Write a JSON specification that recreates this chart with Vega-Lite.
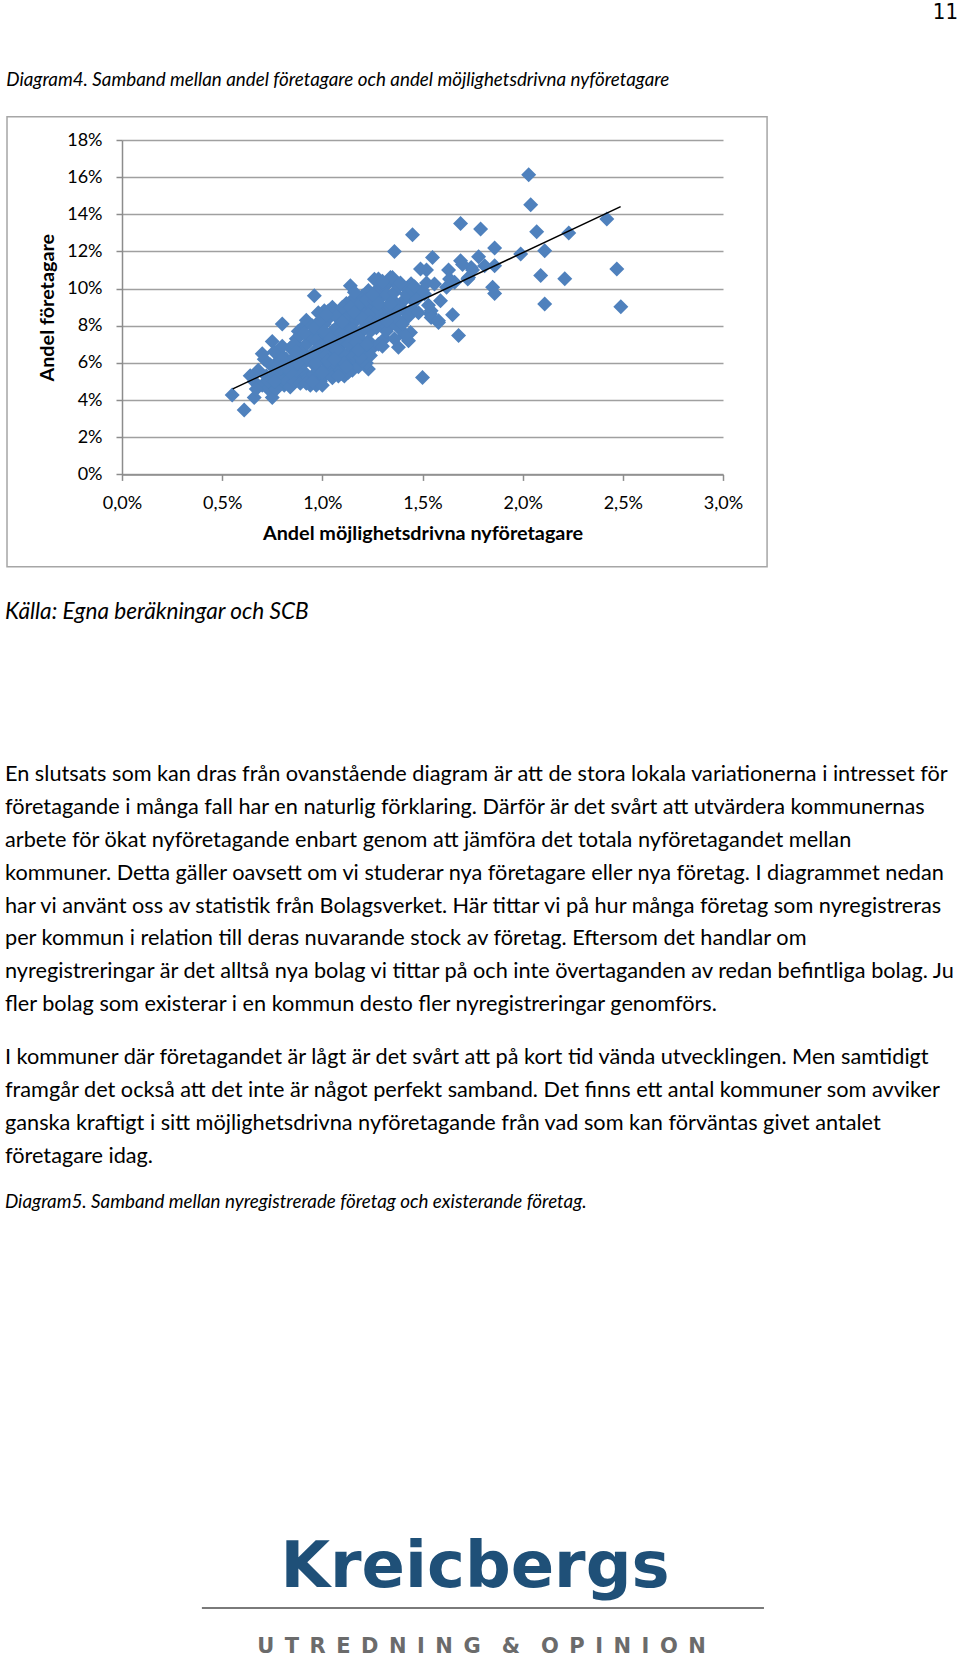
{
  "$schema": "https://vega.github.io/schema/vega-lite/v6.json",
  "background": "white",
  "padding": {"left": 5, "top": 0, "right": 0, "bottom": 0},
  "config": {
    "view": {"stroke": null},
    "font": "Lato",
    "title": {"color": "black", "fontWeight": "normal", "font": "Lato"}
  },
  "datasets": {
    "points": [
      {"x":0.0203,"y":0.1613},{"x":0.0204,"y":0.1452},{"x":0.0207,"y":0.1306},{"x":0.0223,"y":0.1299},{"x":0.0242,"y":0.1375},
      {"x":0.0247,"y":0.1106},{"x":0.0249,"y":0.0903},{"x":0.0211,"y":0.1204},{"x":0.0209,"y":0.1070},{"x":0.0221,"y":0.1053},
      {"x":0.0211,"y":0.0917},{"x":0.0199,"y":0.1186},{"x":0.0186,"y":0.1219},{"x":0.0186,"y":0.1123},{"x":0.0185,"y":0.1007},
      {"x":0.0186,"y":0.0974},{"x":0.0179,"y":0.1321},{"x":0.0169,"y":0.1351},{"x":0.0145,"y":0.1290},{"x":0.0136,"y":0.1200},
      {"x":0.0155,"y":0.1168},{"x":0.0152,"y":0.1100},{"x":0.0163,"y":0.1100},{"x":0.0169,"y":0.1150},{"x":0.0178,"y":0.1172},
      {"x":0.0173,"y":0.1060},{"x":0.0166,"y":0.1034},{"x":0.0159,"y":0.0935},{"x":0.0165,"y":0.0860},{"x":0.0168,"y":0.0747},
      {"x":0.0158,"y":0.0818},{"x":0.0154,"y":0.0863},{"x":0.0150,"y":0.0522},{"x":0.0156,"y":0.1025},{"x":0.0114,"y":0.1016},
      {"x":0.0096,"y":0.0962},{"x":0.0080,"y":0.0810},{"x":0.0075,"y":0.0716},{"x":0.0055,"y":0.0427},{"x":0.0061,"y":0.0347},
      {"x":0.0075,"y":0.0414},{"x":0.0066,"y":0.0414},{"x":0.0064,"y":0.0531},{"x":0.0123,"y":0.0567},{"x":0.0138,"y":0.0684},
      {"x":0.0144,"y":0.0764},{"x":0.0135,"y":0.1060},{"x":0.0128,"y":0.1052},{"x":0.0149,"y":0.1106},{"x":0.0162,"y":0.1007},
      {"x":0.01635,"y":0.1052},{"x":0.01743,"y":0.1114},{"x":0.0181,"y":0.1123},{"x":0.01726,"y":0.1052},{"x":0.0151,"y":0.0971},
      {"x":0.01543,"y":0.0881},{"x":0.01543,"y":0.0845},{"x":0.0158,"y":0.0827},{"x":0.01443,"y":0.1026},{"x":0.0146,"y":0.0989},
      {"x":0.0101,"y":0.0881},{"x":0.0105,"y":0.0900},{"x":0.0170,"y":0.1130},{"x":0.0175,"y":0.1100},
      {"x":0.0066,"y":0.050},{"x":0.0068,"y":0.056},{"x":0.0070,"y":0.048},{"x":0.0071,"y":0.062},{"x":0.0072,"y":0.053},
      {"x":0.0073,"y":0.046},{"x":0.0074,"y":0.059},{"x":0.0070,"y":0.065},{"x":0.0067,"y":0.046},{"x":0.0073,"y":0.050},
      {"x":0.0076,"y":0.054},{"x":0.0077,"y":0.060},{"x":0.0078,"y":0.049},{"x":0.0079,"y":0.065},{"x":0.0080,"y":0.056},
      {"x":0.0081,"y":0.048},{"x":0.0082,"y":0.062},{"x":0.0083,"y":0.052},{"x":0.0084,"y":0.068},{"x":0.0085,"y":0.058},
      {"x":0.0076,"y":0.066},{"x":0.0078,"y":0.052},{"x":0.0080,"y":0.069},{"x":0.0082,"y":0.050},{"x":0.0084,"y":0.047},
      {"x":0.0077,"y":0.046},{"x":0.0079,"y":0.057},
      {"x":0.0086,"y":0.063},{"x":0.0087,"y":0.073},{"x":0.0088,"y":0.051},{"x":0.0089,"y":0.068},{"x":0.0090,"y":0.079},
      {"x":0.0091,"y":0.055},{"x":0.0092,"y":0.064},{"x":0.0093,"y":0.071},{"x":0.0094,"y":0.048},{"x":0.0095,"y":0.060},
      {"x":0.0086,"y":0.050},{"x":0.0088,"y":0.077},{"x":0.0090,"y":0.059},{"x":0.0092,"y":0.083},{"x":0.0094,"y":0.075},
      {"x":0.0087,"y":0.056},{"x":0.0089,"y":0.049},{"x":0.0091,"y":0.069},{"x":0.0093,"y":0.052},{"x":0.0095,"y":0.080},
      {"x":0.0086,"y":0.070},{"x":0.0090,"y":0.065},{"x":0.0088,"y":0.060},{"x":0.0092,"y":0.049},
      {"x":0.0096,"y":0.054},{"x":0.0097,"y":0.067},{"x":0.0098,"y":0.076},{"x":0.0099,"y":0.050},{"x":0.0100,"y":0.062},
      {"x":0.0101,"y":0.081},{"x":0.0102,"y":0.057},{"x":0.0103,"y":0.070},{"x":0.0104,"y":0.085},{"x":0.0105,"y":0.064},
      {"x":0.0096,"y":0.079},{"x":0.0097,"y":0.048},{"x":0.0098,"y":0.061},{"x":0.0100,"y":0.073},{"x":0.0101,"y":0.053},
      {"x":0.0102,"y":0.068},{"x":0.0103,"y":0.088},{"x":0.0104,"y":0.059},{"x":0.0099,"y":0.083},{"x":0.0100,"y":0.048},
      {"x":0.0105,"y":0.077},{"x":0.0097,"y":0.072},{"x":0.0102,"y":0.075},{"x":0.0104,"y":0.069},{"x":0.0098,"y":0.056},
      {"x":0.0101,"y":0.065},
      {"x":0.0106,"y":0.055},{"x":0.0107,"y":0.079},{"x":0.0108,"y":0.063},{"x":0.0109,"y":0.087},{"x":0.0110,"y":0.054},
      {"x":0.0111,"y":0.071},{"x":0.0112,"y":0.092},{"x":0.0113,"y":0.060},{"x":0.0114,"y":0.082},{"x":0.0115,"y":0.067},
      {"x":0.0106,"y":0.070},{"x":0.0107,"y":0.059},{"x":0.0108,"y":0.084},{"x":0.0109,"y":0.066},{"x":0.0110,"y":0.076},
      {"x":0.0111,"y":0.053},{"x":0.0112,"y":0.064},{"x":0.0113,"y":0.088},{"x":0.0114,"y":0.073},{"x":0.0115,"y":0.056},
      {"x":0.0106,"y":0.087},{"x":0.0108,"y":0.073},{"x":0.0110,"y":0.090},{"x":0.0112,"y":0.078},{"x":0.0114,"y":0.062},
      {"x":0.0107,"y":0.067},{"x":0.0109,"y":0.056},{"x":0.0111,"y":0.083},{"x":0.0113,"y":0.070},{"x":0.0115,"y":0.094},
      {"x":0.0116,"y":0.075},{"x":0.0117,"y":0.061},{"x":0.0118,"y":0.089},{"x":0.0119,"y":0.070},{"x":0.0120,"y":0.096},
      {"x":0.0121,"y":0.065},{"x":0.0122,"y":0.081},{"x":0.0123,"y":0.072},{"x":0.0124,"y":0.090},{"x":0.0125,"y":0.068},
      {"x":0.0116,"y":0.098},{"x":0.0117,"y":0.083},{"x":0.0118,"y":0.058},{"x":0.0119,"y":0.092},{"x":0.0120,"y":0.077},
      {"x":0.0121,"y":0.086},{"x":0.0122,"y":0.060},{"x":0.0123,"y":0.099},{"x":0.0124,"y":0.077},{"x":0.0125,"y":0.085},
      {"x":0.0116,"y":0.064},{"x":0.0118,"y":0.074},{"x":0.0120,"y":0.061},{"x":0.0122,"y":0.094},{"x":0.0124,"y":0.064},
      {"x":0.0126,"y":0.093},{"x":0.0127,"y":0.079},{"x":0.0128,"y":0.100},{"x":0.0129,"y":0.085},{"x":0.0130,"y":0.096},
      {"x":0.0131,"y":0.073},{"x":0.0132,"y":0.089},{"x":0.0133,"y":0.103},{"x":0.0134,"y":0.080},{"x":0.0135,"y":0.094},
      {"x":0.0126,"y":0.105},{"x":0.0127,"y":0.088},{"x":0.0128,"y":0.070},{"x":0.0129,"y":0.099},{"x":0.0130,"y":0.082},
      {"x":0.0131,"y":0.102},{"x":0.0132,"y":0.077},{"x":0.0133,"y":0.091},{"x":0.0134,"y":0.106},{"x":0.0135,"y":0.086},
      {"x":0.0130,"y":0.069},{"x":0.0127,"y":0.097},{"x":0.0132,"y":0.097},
      {"x":0.0136,"y":0.098},{"x":0.0137,"y":0.084},{"x":0.0138,"y":0.101},{"x":0.0139,"y":0.078},{"x":0.0140,"y":0.093},
      {"x":0.0141,"y":0.088},{"x":0.0142,"y":0.100},{"x":0.0143,"y":0.072},{"x":0.0144,"y":0.095},{"x":0.0145,"y":0.089},
      {"x":0.0137,"y":0.091},{"x":0.0139,"y":0.103},{"x":0.0141,"y":0.075},{"x":0.0143,"y":0.085},{"x":0.0136,"y":0.073},
      {"x":0.0140,"y":0.081},{"x":0.0142,"y":0.097},{"x":0.0145,"y":0.099},{"x":0.0138,"y":0.088},
      {"x":0.0147,"y":0.094},{"x":0.0148,"y":0.087},{"x":0.0150,"y":0.099},{"x":0.0152,"y":0.103},{"x":0.0153,"y":0.091},
      {"x":0.0146,"y":0.101},
      {"x":0.0087,"y":0.066},{"x":0.0089,"y":0.075},{"x":0.0091,"y":0.076},{"x":0.0093,"y":0.062},{"x":0.0095,"y":0.050},
      {"x":0.0097,"y":0.060},{"x":0.0099,"y":0.069},{"x":0.0101,"y":0.077},{"x":0.0103,"y":0.061},{"x":0.0105,"y":0.052},
      {"x":0.0107,"y":0.085},{"x":0.0109,"y":0.076},{"x":0.0111,"y":0.060},{"x":0.0113,"y":0.055},{"x":0.0115,"y":0.078},
      {"x":0.0117,"y":0.071},{"x":0.0119,"y":0.063},{"x":0.0121,"y":0.079},{"x":0.0123,"y":0.086},{"x":0.0125,"y":0.097},
      {"x":0.0096,"y":0.066},{"x":0.0098,"y":0.087},{"x":0.0100,"y":0.055},{"x":0.0102,"y":0.086},{"x":0.0104,"y":0.073},
      {"x":0.0106,"y":0.062},{"x":0.0108,"y":0.053},{"x":0.0110,"y":0.082},{"x":0.0112,"y":0.058},{"x":0.0114,"y":0.090},
      {"x":0.0116,"y":0.087},{"x":0.0118,"y":0.067},{"x":0.0120,"y":0.084},{"x":0.0122,"y":0.070},{"x":0.0124,"y":0.082},
      {"x":0.0126,"y":0.081},{"x":0.0128,"y":0.092},{"x":0.0130,"y":0.104},{"x":0.0132,"y":0.083},{"x":0.0134,"y":0.092},
      {"x":0.0084,"y":0.055},{"x":0.0082,"y":0.058},{"x":0.0080,"y":0.062},{"x":0.0078,"y":0.059},{"x":0.0076,"y":0.050}
    ],
    "trend": [{"x":0.00553,"y":0.0460},{"x":0.02489,"y":0.1441}],
    "p1": [
      {"line":1,"text":"En slutsats som kan dras från ovanstående diagram är att de stora lokala variationerna i intresset för"},
      {"line":2,"text":"företagande i många fall har en naturlig förklaring. Därför är det svårt att utvärdera kommunernas"},
      {"line":3,"text":"arbete för ökat nyföretagande enbart genom att jämföra det totala nyföretagandet mellan"},
      {"line":4,"text":"kommuner. Detta gäller oavsett om vi studerar nya företagare eller nya företag. I diagrammet nedan"},
      {"line":5,"text":"har vi använt oss av statistik från Bolagsverket.  Här tittar vi på hur många företag som nyregistreras"},
      {"line":6,"text":"per kommun i relation till deras nuvarande stock av företag. Eftersom det handlar om"},
      {"line":7,"text":"nyregistreringar är det alltså nya bolag vi tittar på och inte övertaganden av redan befintliga bolag. Ju"},
      {"line":8,"text":"fler bolag som existerar i en kommun desto fler nyregistreringar genomförs."}
    ],
    "p2": [
      {"line":1,"text":"I kommuner där företagandet är lågt är det svårt att på kort tid vända utvecklingen. Men samtidigt"},
      {"line":2,"text":"framgår det också att det inte är något perfekt samband. Det finns ett antal kommuner som avviker"},
      {"line":3,"text":"ganska kraftigt i sitt möjlighetsdrivna nyföretagande från vad som kan förväntas givet antalet"},
      {"line":4,"text":"företagare idag."}
    ]
  },
  "title": {"text": "11", "anchor": "end", "frame": "bounds", "fontSize": 22, "font": "Liberation Sans Narrow, DejaVu Sans Condensed, sans-serif", "offset": 50.2, "dy": 3},
  "concat": [
    {
      "hconcat": [
        {
          "width": 1,
          "height": 1,
          "data": {"values": []},
          "mark": {"type": "text"},
          "encoding": {}
        },
        {
          "width": 601,
          "height": 334.4,
          "title": {"text": "Diagram4. Samband mellan andel företagare och andel möjlighetsdrivna nyföretagare", "anchor": "start", "frame": "bounds", "fontStyle": "italic", "fontSize": 18.8, "offset": 26},
          "layer": [
            {
              "data": {"name": "points"},
              "mark": {"type": "point", "shape": "diamond", "filled": true, "size": 225, "color": "#4F81BD", "opacity": 1},
              "encoding": {
                "x": {"field": "x", "type": "quantitative",
                  "scale": {"domain": [0, 0.03], "nice": false, "zero": true},
                  "axis": {"values": [0, 0.005, 0.01, 0.015, 0.02, 0.025, 0.03],
                    "labelExpr": "replace(format(datum.value, '.1%'), '.', ',')",
                    "grid": false, "domainColor": "#8c8c8c", "domainWidth": 1.5, "tickColor": "#8c8c8c", "tickWidth": 1.5, "tickSize": 6,
                    "labelFont": "Lato", "labelFontSize": 18, "labelColor": "black", "labelPadding": 14, "labelFlush": false, "labelOverlap": false,
                    "title": "Andel möjlighetsdrivna nyföretagare", "titleFont": "Lato", "titleFontSize": 19.8, "titleFontWeight": "bold", "titleColor": "black", "titlePadding": 11}},
                "y": {"field": "y", "type": "quantitative",
                  "scale": {"domain": [0, 0.18], "nice": false, "zero": true},
                  "axis": {"values": [0, 0.02, 0.04, 0.06, 0.08, 0.1, 0.12, 0.14, 0.16, 0.18], "format": ".0%",
                    "grid": true, "gridColor": "#a0a0a0", "gridWidth": 1.5,
                    "domainColor": "#8c8c8c", "domainWidth": 1.5, "tickColor": "#8c8c8c", "tickWidth": 1.5, "tickSize": 6,
                    "labelFont": "Lato", "labelFontSize": 18, "labelColor": "black", "labelPadding": 14, "labelFlush": false, "labelOverlap": false,
                    "title": "Andel företagare", "titleFont": "Lato", "titleFontSize": 19.8, "titleFontWeight": "bold", "titleColor": "black", "titlePadding": 9}}
              }
            },
            {
              "data": {"name": "trend"},
              "mark": {"type": "line", "color": "black", "strokeWidth": 1.5},
              "encoding": {
                "x": {"field": "x", "type": "quantitative",
                  "scale": {"domain": [0, 0.03], "nice": false, "zero": true},
                  "axis": {"values": [0, 0.005, 0.01, 0.015, 0.02, 0.025, 0.03],
                    "labelExpr": "replace(format(datum.value, '.1%'), '.', ',')",
                    "grid": false, "domainColor": "#8c8c8c", "domainWidth": 1.5, "tickColor": "#8c8c8c", "tickWidth": 1.5, "tickSize": 6,
                    "labelFont": "Lato", "labelFontSize": 18, "labelColor": "black", "labelPadding": 14, "labelFlush": false, "labelOverlap": false,
                    "title": "Andel möjlighetsdrivna nyföretagare", "titleFont": "Lato", "titleFontSize": 19.8, "titleFontWeight": "bold", "titleColor": "black", "titlePadding": 11}},
                "y": {"field": "y", "type": "quantitative",
                  "scale": {"domain": [0, 0.18], "nice": false, "zero": true},
                  "axis": {"values": [0, 0.02, 0.04, 0.06, 0.08, 0.1, 0.12, 0.14, 0.16, 0.18], "format": ".0%",
                    "grid": true, "gridColor": "#a0a0a0", "gridWidth": 1.5,
                    "domainColor": "#8c8c8c", "domainWidth": 1.5, "tickColor": "#8c8c8c", "tickWidth": 1.5, "tickSize": 6,
                    "labelFont": "Lato", "labelFontSize": 18, "labelColor": "black", "labelPadding": 14, "labelFlush": false, "labelOverlap": false,
                    "title": "Andel företagare", "titleFont": "Lato", "titleFontSize": 19.8, "titleFontWeight": "bold", "titleColor": "black", "titlePadding": 9}}
              }
            },
            {
              "data": {"values": [{"frame": "chart area"}]},
              "mark": {"type": "rect", "fill": "transparent", "stroke": "#a6a6a6", "strokeWidth": 1.5, "clip": false},
              "encoding": {
                "x": {"datum": -0.00574, "type": "quantitative",
                  "scale": {"domain": [0, 0.03], "nice": false, "zero": true},
                  "axis": {"values": [0, 0.005, 0.01, 0.015, 0.02, 0.025, 0.03],
                    "labelExpr": "replace(format(datum.value, '.1%'), '.', ',')",
                    "grid": false, "domainColor": "#8c8c8c", "domainWidth": 1.5, "tickColor": "#8c8c8c", "tickWidth": 1.5, "tickSize": 6,
                    "labelFont": "Lato", "labelFontSize": 18, "labelColor": "black", "labelPadding": 14, "labelFlush": false, "labelOverlap": false,
                    "title": "Andel möjlighetsdrivna nyföretagare", "titleFont": "Lato", "titleFontSize": 19.8, "titleFontWeight": "bold", "titleColor": "black", "titlePadding": 11}},
                "x2": {"datum": 0.0322},
                "y": {"datum": 0.19254, "type": "quantitative",
                  "scale": {"domain": [0, 0.18], "nice": false, "zero": true},
                  "axis": {"values": [0, 0.02, 0.04, 0.06, 0.08, 0.1, 0.12, 0.14, 0.16, 0.18], "format": ".0%",
                    "grid": true, "gridColor": "#a0a0a0", "gridWidth": 1.5,
                    "domainColor": "#8c8c8c", "domainWidth": 1.5, "tickColor": "#8c8c8c", "tickWidth": 1.5, "tickSize": 6,
                    "labelFont": "Lato", "labelFontSize": 18, "labelColor": "black", "labelPadding": 14, "labelFlush": false, "labelOverlap": false,
                    "title": "Andel företagare", "titleFont": "Lato", "titleFontSize": 19.8, "titleFontWeight": "bold", "titleColor": "black", "titlePadding": 9}},
                "y2": {"datum": -0.04968}
              }
            }
          ]
        }
      ],
      "spacing": 0
    },
    {
      "concat": [
        {
          "width": 953,
          "height": 262.4,
          "title": {"text": "Källa: Egna beräkningar och SCB", "anchor": "start", "frame": "group", "fontStyle": "italic", "fontSize": 22.6, "offset": 134.6},
          "data": {"name": "p1"},
          "mark": {"type": "text", "align": "left", "baseline": "middle", "font": "Lato", "fontSize": 21.7, "color": "black"},
          "encoding": {
            "x": {"datum": 0, "type": "quantitative", "scale": {"domain": [0, 1]}, "axis": null},
            "y": {"field": "line", "type": "ordinal", "axis": null},
            "text": {"field": "text"}
          }
        },
        {
          "width": 953,
          "height": 131.2,
          "data": {"name": "p2"},
          "mark": {"type": "text", "align": "left", "baseline": "middle", "font": "Lato", "fontSize": 21.7, "color": "black"},
          "encoding": {
            "x": {"datum": 0, "type": "quantitative", "scale": {"domain": [0, 1]}, "axis": null},
            "y": {"field": "line", "type": "ordinal", "axis": null},
            "text": {"field": "text"}
          }
        },
        {
          "width": 953,
          "height": 157,
          "title": {"text": "Diagram5. Samband mellan nyregistrerade företag och existerande företag.", "anchor": "start", "frame": "group", "fontStyle": "italic", "fontSize": 18.8, "offset": 294, "dy": 5},
          "layer": [
            {
              "data": {"values": [{"text": "Kreicbergs"}]},
              "mark": {"type": "text", "align": "center", "baseline": "alphabetic", "font": "DejaVu Sans", "fontWeight": "bold", "fontSize": 64, "color": "#1f5078"},
              "encoding": {
                "x": {"datum": 0.4932, "type": "quantitative", "scale": {"domain": [0, 1]}, "axis": null},
                "y": {"datum": 0.548, "type": "quantitative", "scale": {"domain": [0, 1], "reverse": true}, "axis": null},
                "text": {"field": "text"}
              }
            },
            {
              "data": {"values": [{"item": "logo rule"}]},
              "mark": {"type": "rule", "color": "#7a7a7a", "strokeWidth": 2},
              "encoding": {
                "x": {"datum": 0.2066, "type": "quantitative"},
                "x2": {"datum": 0.7964},
                "y": {"datum": 0.6815, "type": "quantitative"}
              }
            },
            {
              "data": {"values": [{"text": "U\u2002T\u2002R\u2002E\u2002D\u2002N\u2002I\u2002N\u2002G\u2002\u2002&\u2002\u2002O\u2002P\u2002I\u2002N\u2002I\u2002O\u2002N"}]},
              "mark": {"type": "text", "align": "center", "baseline": "alphabetic", "font": "DejaVu Sans", "fontWeight": "bold", "fontSize": 21, "color": "#6b6b6b"},
              "encoding": {
                "x": {"datum": 0.5, "type": "quantitative"},
                "y": {"datum": 0.968, "type": "quantitative"},
                "text": {"field": "text"}
              }
            }
          ]
        }
      ],
      "columns": 1,
      "align": "none",
      "spacing": 20
    }
  ],
  "columns": 1,
  "align": "none",
  "spacing": 32
}
